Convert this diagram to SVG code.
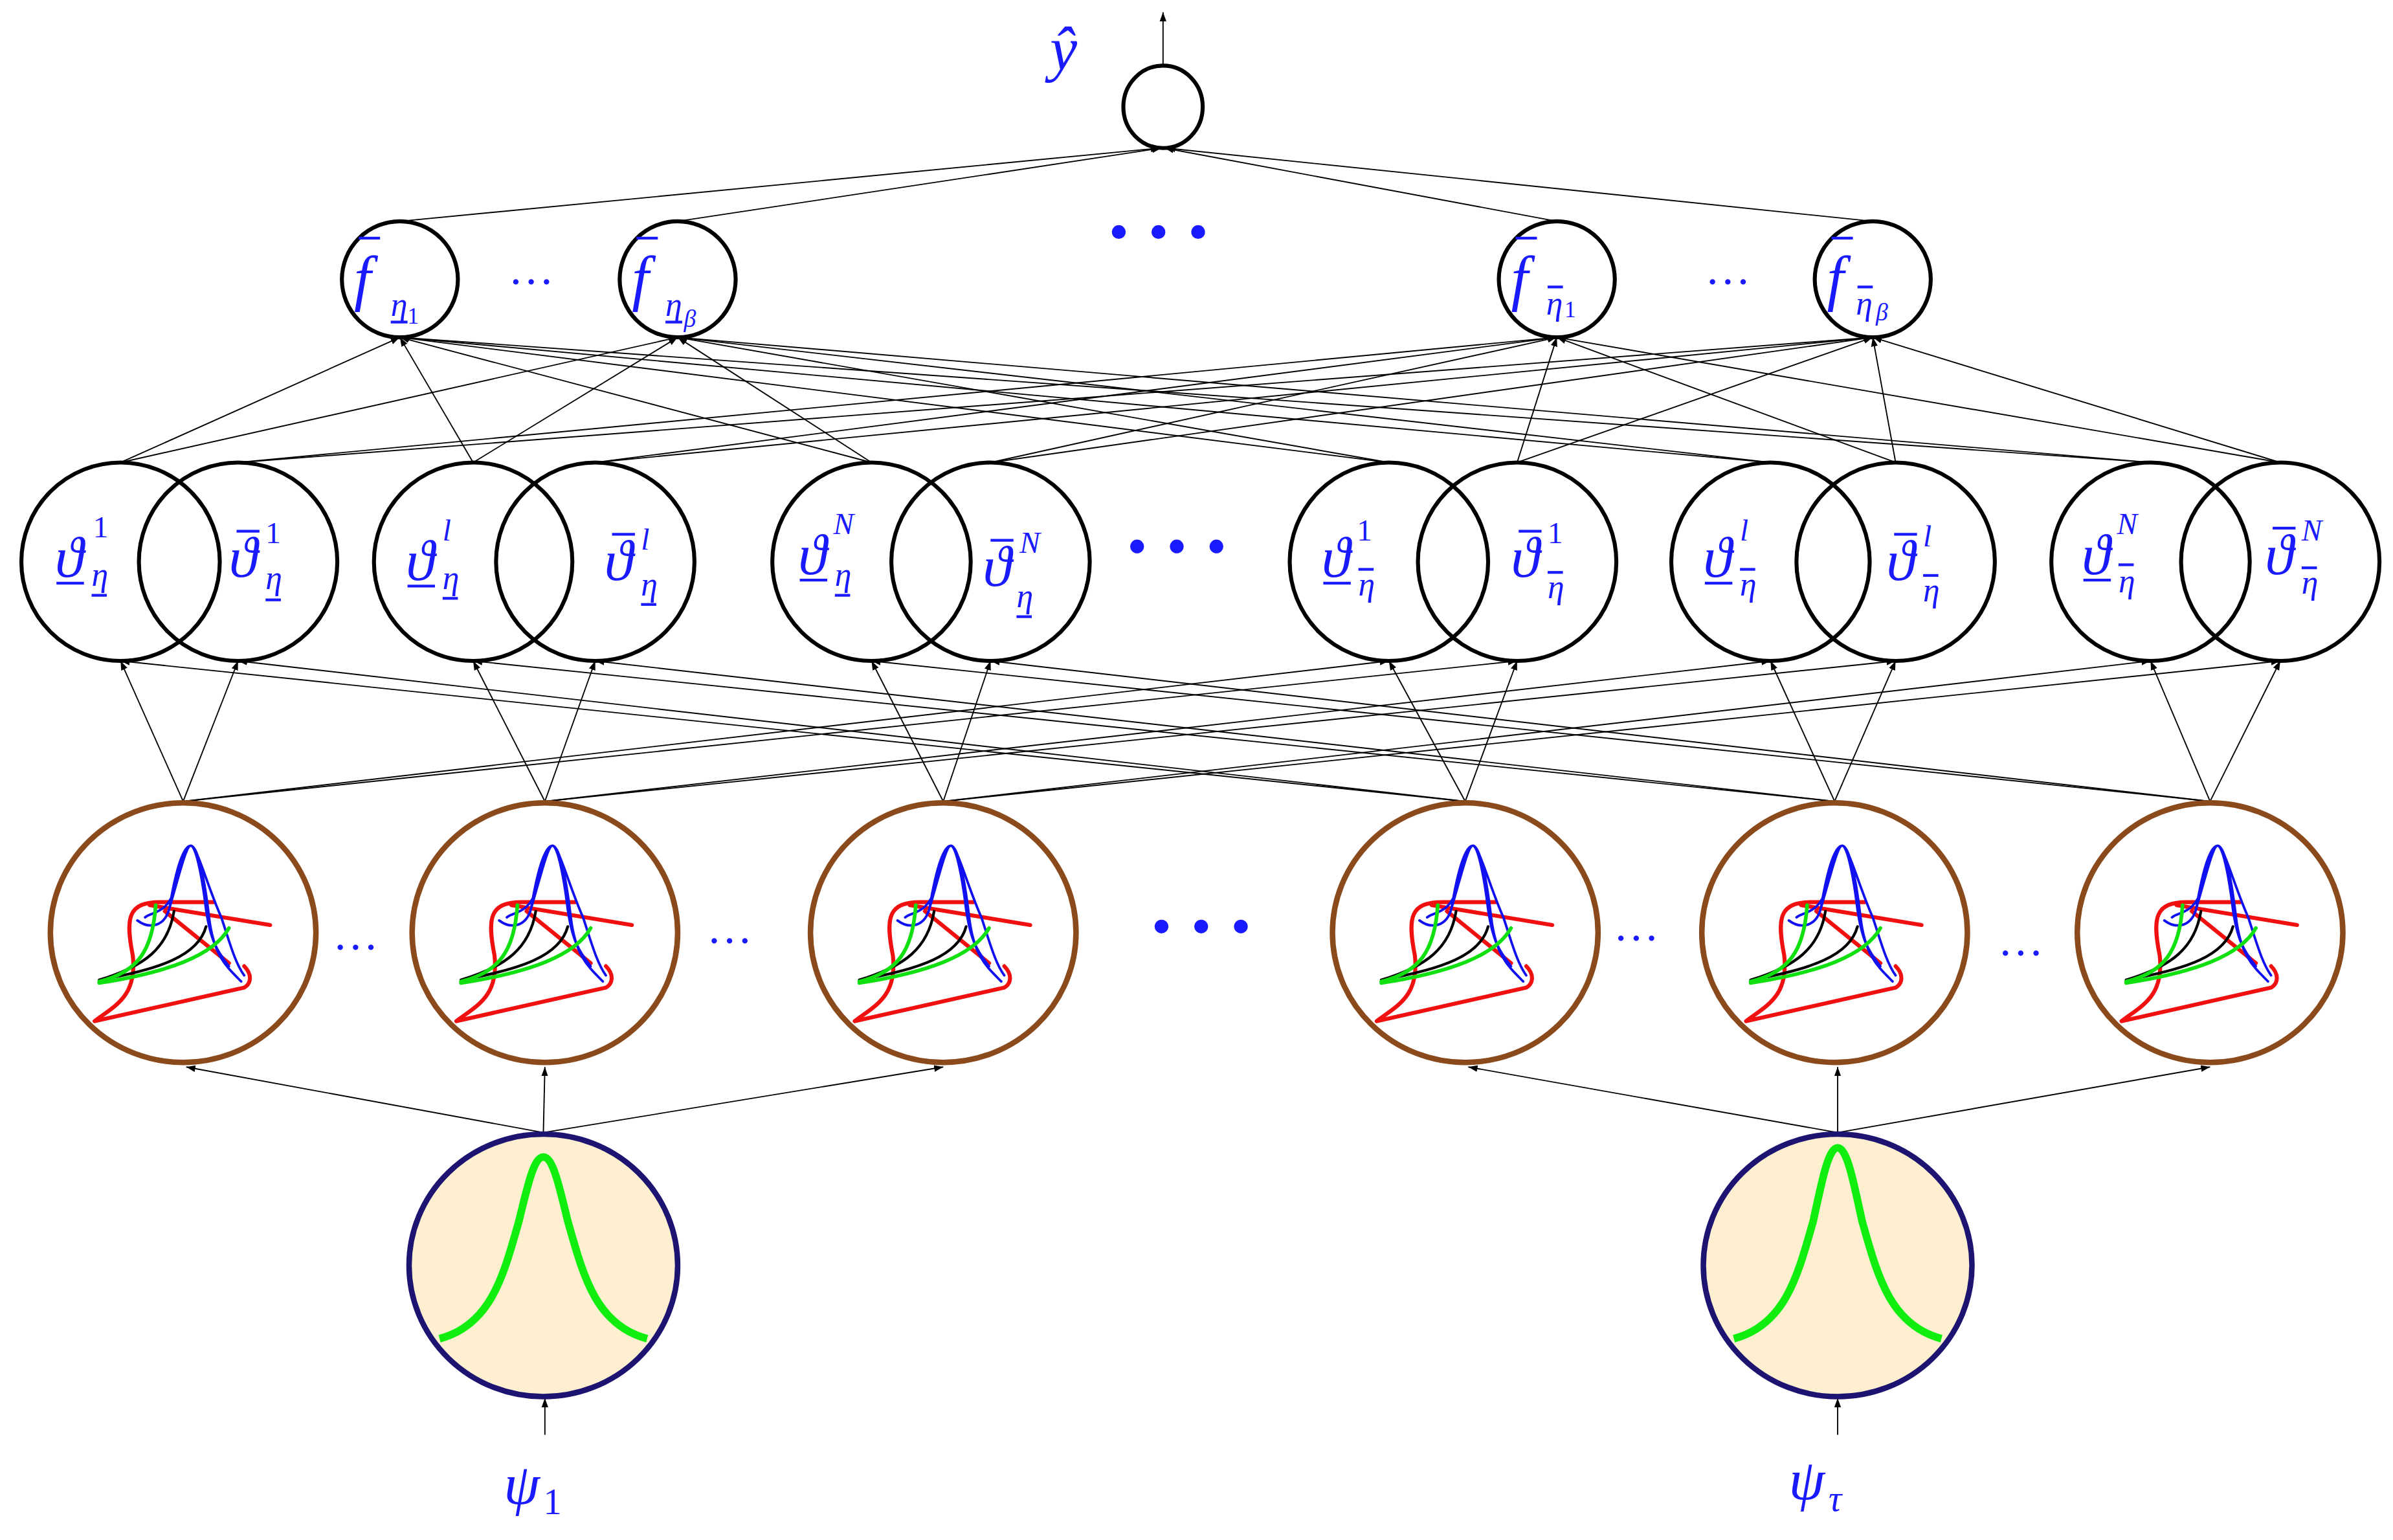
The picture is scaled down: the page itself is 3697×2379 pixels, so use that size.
<svg xmlns="http://www.w3.org/2000/svg" xmlns:xlink="http://www.w3.org/1999/xlink" width="3697" height="2379" viewBox="0 0 3697 2379">
<style>
.c{fill:none;stroke:#000;stroke-width:2.6}
.b{fill:#fff;stroke:#8B4A1C;stroke-width:3.6}
.in{fill:#fdefcf;stroke:#1c1470;stroke-width:3.6}
.ln{stroke:#000;stroke-width:0.8;fill:none;marker-end:url(#a)}
.t{font-family:"Liberation Serif",serif;font-style:italic;fill:#1a1aff}
.up{font-family:"Liberation Serif",serif;fill:#1a1aff}
.bar{stroke:#1a1aff;stroke-width:1.8}
.dot{fill:#1a1aff}
</style>
<defs>
<marker id="a" markerUnits="userSpaceOnUse" markerWidth="6" markerHeight="6" refX="6" refY="3" orient="auto"><path d="M0,0.8 L6,3 L0,5.2z" fill="#000"/></marker>
<g id="mf" fill="none" stroke-linecap="round">
<path d="M-58,58 C-45,48 -30,42 -33,15 C-38,-10 -36,-20 -15,-20 L20,-20 M-22,-18 L57,-5 M-58,58 L40,36 C45,33 45,27 40,22 M-12,-14 L30,20" stroke="#f01010" stroke-width="2.6"/>
<path d="M-30,-8 C-22,-2 -12,-4 -9,-16 C-5,-40 0,-57 5,-57 C10,-57 14,-35 17,-10 C20,15 28,22 38,32 M-9,-16 C-2,-40 2,-57 5,-57 C8,-57 12,-40 15,-15 C18,5 22,12 30,22 M-25,-10 C-20,-14 -10,-12 -5,-30 C0,-50 3,-57 5,-57 C9,-57 16,-30 25,-10 C30,5 34,20 40,28" stroke="#1010f0" stroke-width="1.6"/>
<path d="M-55,31 C-25,22 -10,10 -6,-14 M-55,31 C-15,24 10,15 15,-4" stroke="#000" stroke-width="1.8"/>
<path d="M-55,32 C-30,26 -20,12 -18,-18 M-55,33 C-10,26 20,15 30,-3" stroke="#10e010" stroke-width="2.4"/>
</g>
</defs>
<g transform="scale(2.358)">
<g id="connectors">
<line class="ln" x1="762" y1="44" x2="762" y2="8"/>
<line class="ln" x1="262" y1="145" x2="760" y2="97"/>
<line class="ln" x1="444" y1="145" x2="761" y2="97"/>
<line class="ln" x1="1020" y1="145" x2="763" y2="97"/>
<line class="ln" x1="1227" y1="145" x2="764" y2="97"/>
<g>
<line class="ln" x1="79" y1="303" x2="262" y2="221"/><line class="ln" x1="79" y1="303" x2="444" y2="221"/>
<line class="ln" x1="310" y1="303" x2="262" y2="221"/><line class="ln" x1="310" y1="303" x2="444" y2="221"/>
<line class="ln" x1="571" y1="303" x2="262" y2="221"/><line class="ln" x1="571" y1="303" x2="444" y2="221"/>
<line class="ln" x1="910" y1="303" x2="262" y2="221"/><line class="ln" x1="910" y1="303" x2="444" y2="221"/>
<line class="ln" x1="1160" y1="303" x2="262" y2="221"/><line class="ln" x1="1160" y1="303" x2="444" y2="221"/>
<line class="ln" x1="1409" y1="303" x2="262" y2="221"/><line class="ln" x1="1409" y1="303" x2="444" y2="221"/>
<line class="ln" x1="156" y1="303" x2="1020" y2="221"/><line class="ln" x1="156" y1="303" x2="1227" y2="221"/>
<line class="ln" x1="390" y1="303" x2="1020" y2="221"/><line class="ln" x1="390" y1="303" x2="1227" y2="221"/>
<line class="ln" x1="649" y1="303" x2="1020" y2="221"/><line class="ln" x1="649" y1="303" x2="1227" y2="221"/>
<line class="ln" x1="994" y1="303" x2="1020" y2="221"/><line class="ln" x1="994" y1="303" x2="1227" y2="221"/>
<line class="ln" x1="1242" y1="303" x2="1020" y2="221"/><line class="ln" x1="1242" y1="303" x2="1227" y2="221"/>
<line class="ln" x1="1494" y1="303" x2="1020" y2="221"/><line class="ln" x1="1494" y1="303" x2="1227" y2="221"/>
</g>
<g>
<line class="ln" x1="120" y1="525" x2="79" y2="433"/><line class="ln" x1="120" y1="525" x2="156" y2="433"/>
<line class="ln" x1="357" y1="525" x2="310" y2="433"/><line class="ln" x1="357" y1="525" x2="390" y2="433"/>
<line class="ln" x1="618" y1="525" x2="571" y2="433"/><line class="ln" x1="618" y1="525" x2="649" y2="433"/>
<line class="ln" x1="960" y1="525" x2="910" y2="433"/><line class="ln" x1="960" y1="525" x2="994" y2="433"/>
<line class="ln" x1="1202" y1="525" x2="1160" y2="433"/><line class="ln" x1="1202" y1="525" x2="1242" y2="433"/>
<line class="ln" x1="1448" y1="525" x2="1409" y2="433"/><line class="ln" x1="1448" y1="525" x2="1494" y2="433"/>
<line class="ln" x1="120" y1="525" x2="910" y2="433"/><line class="ln" x1="120" y1="525" x2="994" y2="433"/>
<line class="ln" x1="357" y1="525" x2="1160" y2="433"/><line class="ln" x1="357" y1="525" x2="1242" y2="433"/>
<line class="ln" x1="618" y1="525" x2="1409" y2="433"/><line class="ln" x1="618" y1="525" x2="1494" y2="433"/>
<line class="ln" x1="960" y1="525" x2="79" y2="433"/><line class="ln" x1="960" y1="525" x2="156" y2="433"/>
<line class="ln" x1="1202" y1="525" x2="310" y2="433"/><line class="ln" x1="1202" y1="525" x2="390" y2="433"/>
<line class="ln" x1="1448" y1="525" x2="571" y2="433"/><line class="ln" x1="1448" y1="525" x2="649" y2="433"/>
</g>
<line class="ln" x1="356" y1="742" x2="122" y2="699"/>
<line class="ln" x1="356" y1="742" x2="357" y2="699"/>
<line class="ln" x1="356" y1="742" x2="618" y2="699"/>
<line class="ln" x1="1204" y1="742" x2="962" y2="699"/>
<line class="ln" x1="1204" y1="742" x2="1204" y2="699"/>
<line class="ln" x1="1204" y1="742" x2="1448" y2="699"/>
<line class="ln" x1="357" y1="940" x2="357" y2="916"/>
<line class="ln" x1="1204" y1="940" x2="1204" y2="916"/>
</g>

<g id="out"><ellipse class="c" cx="762" cy="70" rx="26" ry="27"/>
<text class="t" x="688" y="46" font-size="40">ŷ</text></g>

<g id="f1"><circle class="c" cx="262" cy="183" r="38"/>
<line class="bar" x1="235" y1="156" x2="249" y2="156"/><text class="t" x="232" y="196" font-size="40">f</text>
<text class="t" x="256" y="207" font-size="22">η</text><line class="bar" x1="256" y1="211" x2="267" y2="211"/><text class="up" x="267" y="212" font-size="15">1</text></g>
<g id="f2"><circle class="c" cx="444" cy="183" r="38"/>
<line class="bar" x1="417" y1="156" x2="431" y2="156"/><text class="t" x="414" y="196" font-size="40">f</text>
<text class="t" x="436" y="207" font-size="22">η</text><line class="bar" x1="436" y1="211" x2="447" y2="211"/><text class="t" x="448" y="214" font-size="16">β</text></g>
<g id="f3"><circle class="c" cx="1020" cy="183" r="38"/>
<line class="bar" x1="993" y1="156" x2="1007" y2="156"/><text class="t" x="990" y="196" font-size="40">f</text>
<line class="bar" x1="1014" y1="188" x2="1024" y2="188"/><text class="t" x="1013" y="206" font-size="22">η</text><text class="up" x="1025" y="208" font-size="15">1</text></g>
<g id="f4"><circle class="c" cx="1227" cy="183" r="38"/>
<line class="bar" x1="1200" y1="156" x2="1214" y2="156"/><text class="t" x="1197" y="196" font-size="40">f</text>
<line class="bar" x1="1217" y1="188" x2="1227" y2="188"/><text class="t" x="1216" y="206" font-size="22">η</text><text class="t" x="1229" y="210" font-size="16">β</text></g>
<g id="dotsTop"><text class="up" x="333" y="186" font-size="30">…</text><text class="up" x="1117" y="186" font-size="30">…</text>
<circle class="dot" cx="733" cy="152" r="4.5"/><circle class="dot" cx="759" cy="152" r="4.5"/><circle class="dot" cx="785" cy="152" r="4.5"/></g>

<g id="pair1"><circle class="c" cx="79" cy="368" r="65"/><circle class="c" cx="156" cy="368" r="65"/>
<text class="t" x="36" y="378" font-size="38">ϑ</text><line class="bar" x1="37" y1="382" x2="55" y2="382"/><text class="up" x="61" y="352" font-size="20">1</text><text class="t" x="60" y="384" font-size="22">η</text><line class="bar" x1="60" y1="390" x2="70" y2="390"/>
<text class="t" x="150" y="378" font-size="38">ϑ</text><line class="bar" x1="155" y1="348" x2="170" y2="348"/><text class="up" x="174" y="356" font-size="20">1</text><text class="t" x="174" y="386" font-size="22">η</text><line class="bar" x1="174" y1="393" x2="184" y2="393"/></g>
<g id="pair2"><circle class="c" cx="310" cy="368" r="65"/><circle class="c" cx="390" cy="368" r="65"/>
<text class="t" x="266" y="380" font-size="38">ϑ</text><line class="bar" x1="267" y1="384" x2="285" y2="384"/><text class="t" x="290" y="354" font-size="20">l</text><text class="t" x="290" y="386" font-size="22">η</text><line class="bar" x1="290" y1="392" x2="300" y2="392"/>
<text class="t" x="396" y="380" font-size="38">ϑ</text><line class="bar" x1="401" y1="350" x2="416" y2="350"/><text class="t" x="420" y="360" font-size="20">l</text><text class="t" x="420" y="390" font-size="22">η</text><line class="bar" x1="420" y1="396" x2="430" y2="396"/></g>
<g id="pair3"><circle class="c" cx="571" cy="368" r="65"/><circle class="c" cx="649" cy="368" r="65"/>
<text class="t" x="523" y="376" font-size="38">ϑ</text><line class="bar" x1="524" y1="380" x2="542" y2="380"/><text class="t" x="546" y="350" font-size="20">N</text><text class="t" x="547" y="384" font-size="22">η</text><line class="bar" x1="547" y1="390" x2="557" y2="390"/>
<text class="t" x="644" y="384" font-size="38">ϑ</text><line class="bar" x1="649" y1="354" x2="664" y2="354"/><text class="t" x="668" y="362" font-size="20">N</text><text class="t" x="666" y="398" font-size="22">η</text><line class="bar" x1="666" y1="404" x2="676" y2="404"/></g>
<g id="pair4"><circle class="c" cx="910" cy="368" r="65"/><circle class="c" cx="994" cy="368" r="65"/>
<text class="t" x="866" y="378" font-size="38">ϑ</text><line class="bar" x1="867" y1="382" x2="885" y2="382"/><text class="up" x="889" y="354" font-size="20">1</text><line class="bar" x1="890" y1="373" x2="900" y2="373"/><text class="t" x="890" y="390" font-size="22">η</text>
<text class="t" x="990" y="378" font-size="38">ϑ</text><line class="bar" x1="995" y1="348" x2="1010" y2="348"/><text class="up" x="1014" y="356" font-size="20">1</text><line class="bar" x1="1014" y1="375" x2="1024" y2="375"/><text class="t" x="1014" y="392" font-size="22">η</text></g>
<g id="pair5"><circle class="c" cx="1160" cy="368" r="65"/><circle class="c" cx="1242" cy="368" r="65"/>
<text class="t" x="1116" y="378" font-size="38">ϑ</text><line class="bar" x1="1117" y1="382" x2="1135" y2="382"/><text class="t" x="1140" y="354" font-size="20">l</text><line class="bar" x1="1140" y1="373" x2="1150" y2="373"/><text class="t" x="1140" y="390" font-size="22">η</text>
<text class="t" x="1236" y="380" font-size="38">ϑ</text><line class="bar" x1="1241" y1="350" x2="1256" y2="350"/><text class="t" x="1260" y="358" font-size="20">l</text><line class="bar" x1="1260" y1="377" x2="1270" y2="377"/><text class="t" x="1260" y="394" font-size="22">η</text></g>
<g id="pair6"><circle class="c" cx="1409" cy="368" r="65"/><circle class="c" cx="1494" cy="368" r="65"/>
<text class="t" x="1364" y="376" font-size="38">ϑ</text><line class="bar" x1="1365" y1="380" x2="1383" y2="380"/><text class="t" x="1387" y="350" font-size="20">N</text><line class="bar" x1="1388" y1="370" x2="1398" y2="370"/><text class="t" x="1388" y="388" font-size="22">η</text>
<text class="t" x="1484" y="376" font-size="38">ϑ</text><line class="bar" x1="1489" y1="346" x2="1504" y2="346"/><text class="t" x="1508" y="354" font-size="20">N</text><line class="bar" x1="1508" y1="372" x2="1518" y2="372"/><text class="t" x="1508" y="389" font-size="22">η</text></g>
<g id="dotsMid"><circle class="dot" cx="745" cy="358" r="4.5"/><circle class="dot" cx="771" cy="358" r="4.5"/><circle class="dot" cx="797" cy="358" r="4.5"/></g>

<g id="m1"><ellipse class="b" cx="120" cy="611" rx="87" ry="85"/><use xlink:href="#mf" x="120" y="611"/></g>
<g id="m2"><ellipse class="b" cx="357" cy="611" rx="87" ry="85"/><use xlink:href="#mf" x="357" y="611"/></g>
<g id="m3"><ellipse class="b" cx="618" cy="611" rx="87" ry="85"/><use xlink:href="#mf" x="618" y="611"/></g>
<g id="m4"><ellipse class="b" cx="960" cy="611" rx="87" ry="85"/><use xlink:href="#mf" x="960" y="611"/></g>
<g id="m5"><ellipse class="b" cx="1202" cy="611" rx="87" ry="85"/><use xlink:href="#mf" x="1202" y="611"/></g>
<g id="m6"><ellipse class="b" cx="1448" cy="611" rx="87" ry="85"/><use xlink:href="#mf" x="1448" y="611"/></g>
<g id="dotsLow"><text class="up" x="218" y="622" font-size="30">…</text><text class="up" x="463" y="618" font-size="30">…</text><text class="up" x="1057" y="616" font-size="30">…</text><text class="up" x="1309" y="626" font-size="30">…</text>
<circle class="dot" cx="761" cy="607" r="4.5"/><circle class="dot" cx="787" cy="607" r="4.5"/><circle class="dot" cx="813" cy="607" r="4.5"/></g>

<g id="in1"><ellipse class="in" cx="356" cy="829" rx="88" ry="86"/>
<path d="M288,877 C322,868 330,835 340,800 C346,775 350,758 356,758 C362,758 366,775 372,800 C382,835 390,868 424,877" fill="none" stroke="#10ee10" stroke-width="5"/>
<text class="t" x="330" y="985" font-size="38">ψ</text><text class="up" x="356" y="992" font-size="24">1</text></g>
<g id="in2"><ellipse class="in" cx="1204" cy="829" rx="88" ry="86"/>
<path d="M1136,877 C1170,868 1178,835 1188,800 C1194,772 1198,752 1204,752 C1210,752 1214,772 1220,800 C1230,835 1238,868 1272,877" fill="none" stroke="#10ee10" stroke-width="5"/>
<text class="t" x="1172" y="982" font-size="38">ψ</text><text class="t" x="1198" y="990" font-size="24">τ</text></g>
</g>
</svg>
